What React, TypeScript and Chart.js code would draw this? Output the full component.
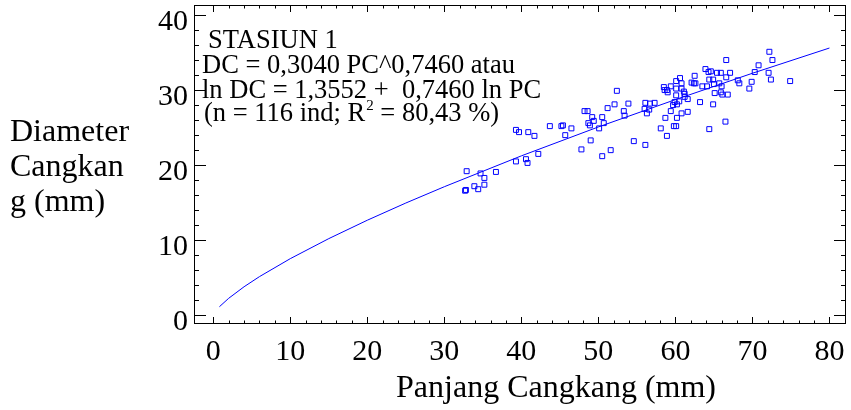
import React, { useEffect, useRef } from 'react';
import { Chart, registerables } from 'chart.js';

Chart.register(...registerables);

// Scatter observations (Panjang Cangkang, Diameter Cangkang), mm
const panjang = [
  32.7, 32.8, 32.9, 33.9, 34.4, 34.7, 35.2, 35.2, 36.7, 39.3,
  39.7, 39.3, 40.6, 40.8, 40.9, 41.7, 42.2, 43.7, 45.2, 45.4,
  45.7, 46.5, 47.8, 48.2, 48.6, 48.7, 48.9, 49.0, 49.2, 49.4,
  50.1, 50.5, 50.7, 50.5, 51.2, 51.6, 52.1, 52.4, 53.3, 53.4,
  53.9, 54.6, 56.1, 56.0, 56.1, 56.3, 56.6, 56.7, 57.3, 58.1,
  58.5, 58.6, 58.9, 59.0, 58.7, 58.9, 59.4, 59.4, 59.7, 59.9,
  59.8, 60.1, 60.1, 60.1, 60.1, 60.2, 60.2, 60.5, 60.6, 60.8,
  60.8, 60.8, 61.1, 61.2, 61.2, 61.6, 61.6, 62.1, 62.4, 62.5,
  62.6, 63.2, 63.5, 63.9, 64.1, 64.3, 64.4, 64.4, 64.6, 64.9,
  64.9, 65.0, 65.1, 65.4, 65.7, 65.9, 65.9, 66.0, 66.1, 66.5,
  66.6, 66.6, 66.8, 67.1, 68.1, 68.3, 69.6, 69.9, 70.3, 70.8,
  72.1, 72.2, 72.4, 72.6, 74.9,
];
const diameter = [
  16.6, 16.7, 19.2, 17.2, 16.8, 18.9, 17.4, 18.3, 19.1, 24.7,
  24.4, 20.5, 20.8, 20.3, 24.4, 23.9, 21.5, 25.2, 25.2, 25.3,
  24.0, 24.9, 22.1, 27.2, 27.2, 25.6, 25.3, 23.3, 26.4, 25.9,
  24.9, 26.4, 25.6, 21.2, 27.6, 22.0, 28.1, 29.9, 27.2, 26.6,
  28.2, 23.2, 22.7, 27.5, 28.3, 26.9, 27.4, 28.2, 28.3, 24.9,
  30.4, 30.0, 30.0, 29.7, 26.3, 23.9, 30.5, 27.2, 28.0, 28.4,
  25.2, 25.2, 30.2, 29.3, 31.2, 26.3, 28.1, 28.5, 31.6, 30.9,
  30.2, 26.9, 29.8, 29.5, 29.1, 28.8, 27.1, 31.0, 30.9, 31.9,
  30.9, 28.4, 30.5, 32.8, 30.5, 32.4, 24.8, 31.4, 32.5, 31.4,
  28.1, 30.8, 29.6, 32.3, 30.9, 32.3, 29.7, 30.5, 29.4, 25.8,
  34.0, 31.7, 29.4, 32.3, 31.3, 30.9, 30.2, 31.1, 32.4, 33.3,
  32.3, 35.1, 31.4, 34.0, 31.2,
];

// Fitted curve
const curvePC = [0.8, 2, 4, 6, 10, 15, 20, 25, 30, 40, 50, 60, 70, 80];
const curveDC = [1.15, 2.27, 3.81, 5.16, 7.55, 10.22, 12.67, 14.96, 17.13, 21.24, 25.09, 28.73, 32.24, 35.6];

const xTicks = [0, 10, 20, 30, 40, 50, 60, 70, 80];
const yTicks = [0, 10, 20, 30, 40];

const xTitle = 'Panjang Cangkang (mm)';
const yTitleLines = ['Diameter', 'Cangkan', 'g (mm)'];
const noteTitle = 'STASIUN 1';
const noteEq1 = 'DC = 0,3040 PC^0,7460 atau';
const noteEq2 = 'ln DC = 1,3552 +  0,7460 ln PC';
const noteStatA = '(n = 116 ind; R';
const noteStatSup = '2';
const noteStatB = ' = 80,43 %)';

const SERIF = '"Liberation Serif", "Times New Roman", Times, serif';
const BLUE = '#0000ff';

const framePlugin = {
  id: 'frame',
  afterDraw(chart: any) {
    const { ctx, chartArea: a, scales } = chart;
    const x = scales.x;
    const y = scales.y;
    ctx.save();
    ctx.strokeStyle = '#000';
    ctx.lineWidth = 1;
    ctx.strokeRect(a.left + 0.5, a.top + 0.5, a.right - a.left - 1, a.bottom - a.top - 1);
    ctx.beginPath();
    for (let v = 0; v <= 80; v += 2) {
      const px = Math.round(x.getPixelForValue(v)) + 0.5;
      const len = v % 10 === 0 ? 7 : 3.5;
      ctx.moveTo(px, a.bottom);
      ctx.lineTo(px, a.bottom - len);
      ctx.moveTo(px, a.top);
      ctx.lineTo(px, a.top + len);
    }
    for (let v = 0; v <= 40; v += 2) {
      const py = Math.round(y.getPixelForValue(v)) + 0.5;
      const len = v % 10 === 0 ? 12 : 5;
      ctx.moveTo(a.left, py);
      ctx.lineTo(a.left + len, py);
      ctx.moveTo(a.right, py);
      ctx.lineTo(a.right - len, py);
    }
    ctx.stroke();

    ctx.fillStyle = '#000';
    ctx.textBaseline = 'alphabetic';
    // Axis titles
    ctx.font = `32px ${SERIF}`;
    ctx.textAlign = 'center';
    ctx.fillText(xTitle, 556, 397);
    ctx.textAlign = 'left';
    const yBase = [141, 176, 211];
    yTitleLines.forEach((t, i) => ctx.fillText(t, 10, yBase[i]));

    // Annotation
    ctx.font = `26.5px ${SERIF}`;
    ctx.fillText(noteTitle, 208, 48);
    ctx.fillText(noteEq1, 202, 73);
    ctx.fillText(noteEq2, 202, 98);
    ctx.fillText(noteStatA, 204, 121);
    const wA = ctx.measureText(noteStatA).width;
    ctx.font = `15px ${SERIF}`;
    ctx.fillText(noteStatSup, 204 + wA + 1, 110);
    const wS = ctx.measureText(noteStatSup).width;
    ctx.font = `26.5px ${SERIF}`;
    ctx.fillText(noteStatB, 204 + wA + wS + 1, 121);
    ctx.restore();
  },
};

export default function App() {
  const ref = useRef<HTMLCanvasElement | null>(null);

  useEffect(() => {
    if (!ref.current) return;
    const points = panjang.map((v, i) => ({ x: v, y: diameter[i] }));
    const curve = curvePC.map((v, i) => ({ x: v, y: curveDC[i] }));
    const chart = new Chart(ref.current, {
      type: 'scatter',
      data: {
        datasets: [
          {
            data: curve,
            showLine: true,
            borderColor: BLUE,
            borderWidth: 1,
            pointRadius: 0,
            tension: 0,
            fill: false,
          },
          {
            data: points,
            pointStyle: 'rect',
            pointRadius: 3.5,
            pointBorderWidth: 1,
            borderColor: BLUE,
            backgroundColor: 'rgba(0,0,0,0)',
            showLine: false,
          },
        ],
      },
      options: {
        responsive: false,
        animation: false,
        devicePixelRatio: 1,
        layout: { padding: { top: 5, right: 1, left: 0, bottom: 0 } },
        plugins: { legend: { display: false }, tooltip: { enabled: false } },
        scales: {
          x: {
            type: 'linear',
            min: -2.5,
            max: 82.15,
            grid: { display: false, drawTicks: false },
            border: { display: false },
            ticks: {
              color: '#000',
              font: { family: SERIF, size: 30 },
              padding: 10,
              maxRotation: 0,
            },
            afterBuildTicks: (s: any) => {
              s.ticks = xTicks.map((v) => ({ value: v }));
            },
            afterFit: (s: any) => {
              s.height = 86;
              s.paddingLeft = 0;
              s.paddingRight = 0;
              s.paddingTop = 0;
              s.paddingBottom = 0;
            },
          },
          y: {
            type: 'linear',
            min: -1.15,
            max: 41.33,
            grid: { display: false, drawTicks: false },
            border: { display: false },
            ticks: {
              color: '#000',
              font: { family: SERIF, size: 30 },
              padding: 6,
              labelOffset: 7,
            },
            afterBuildTicks: (s: any) => {
              s.ticks = yTicks.map((v) => ({ value: v }));
            },
            afterFit: (s: any) => {
              s.width = 194;
              s.paddingLeft = 0;
              s.paddingRight = 0;
              s.paddingTop = 0;
              s.paddingBottom = 0;
            },
          },
        },
      },
      plugins: [framePlugin],
    });
    return () => chart.destroy();
  }, []);

  return (
    <div style={{ position: 'absolute', left: 0, top: 0, width: 851, height: 410, background: '#fff' }}>
      <canvas ref={ref} width={851} height={410} />
    </div>
  );
}
